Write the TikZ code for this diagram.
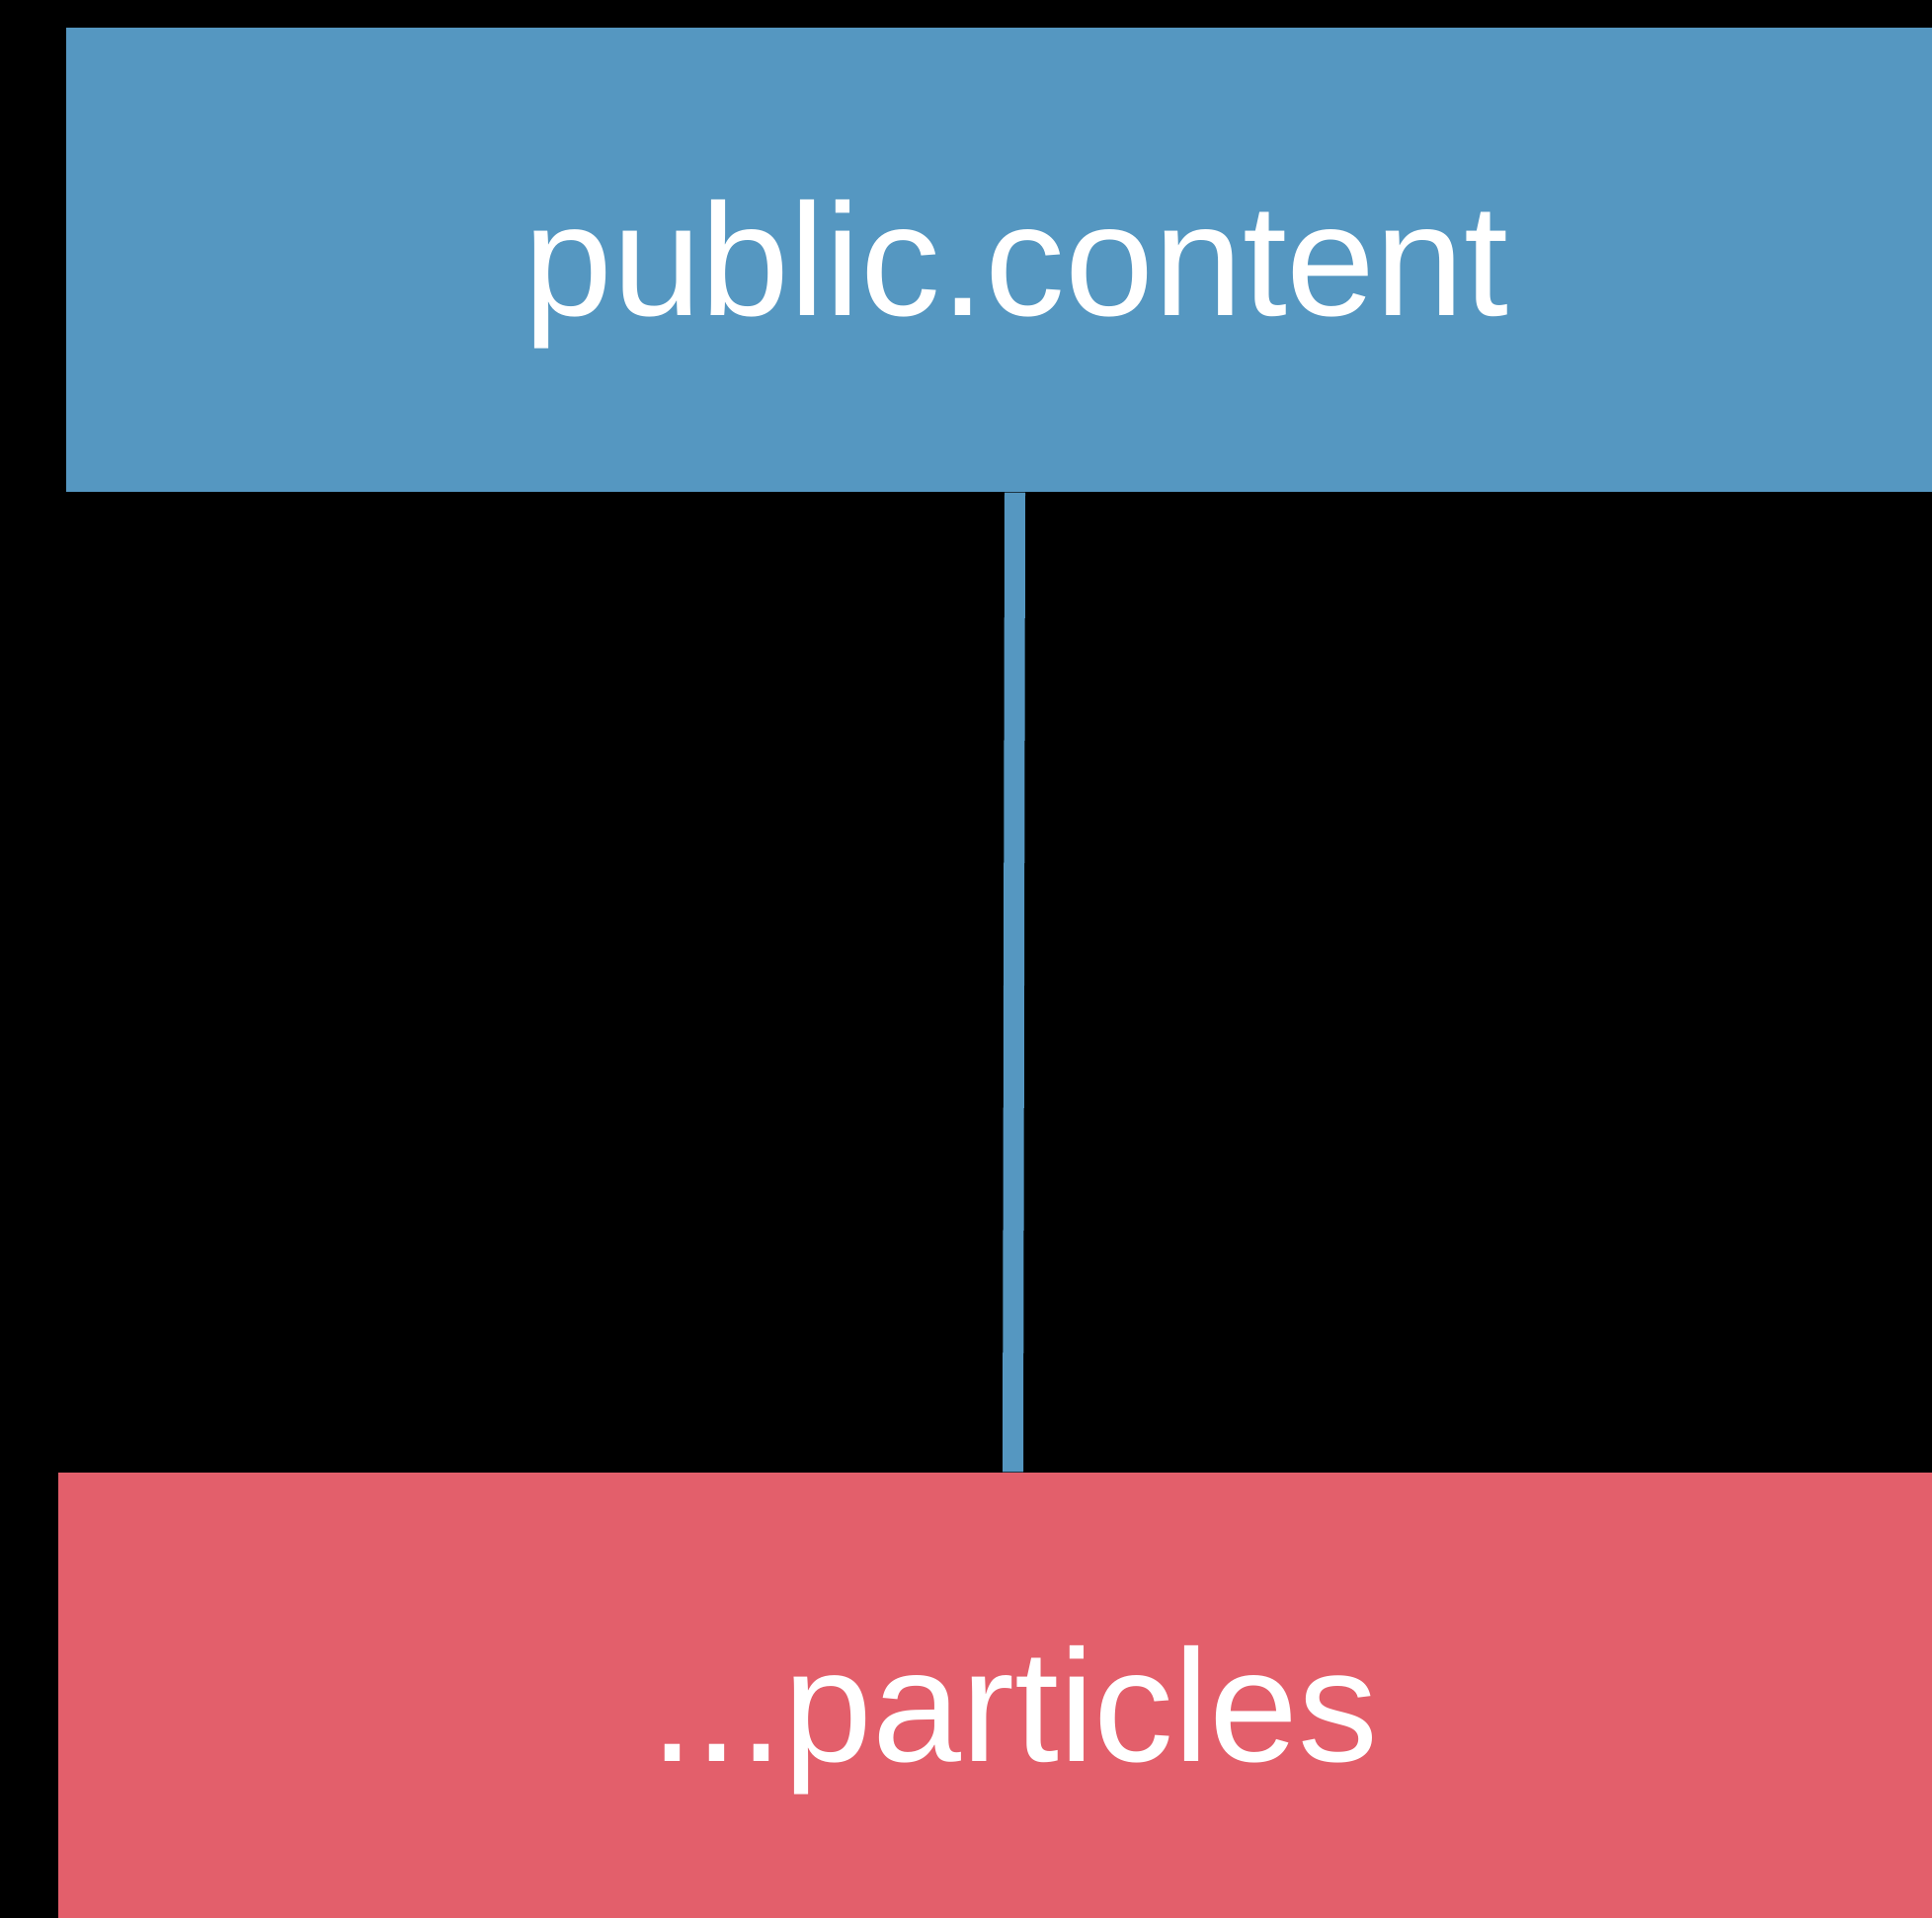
\documentclass[tikz,border=0pt]{standalone}
\usepackage{fontspec}
\setmainfont{Liberation Sans}
\usetikzlibrary{positioning}
\definecolor{pubclr}{RGB}{85,151,193}
\definecolor{partclr}{RGB}{227,95,107}
\tikzset{
  typebox/.style={rectangle,draw=none,inner sep=0pt,minimum height=4.70cm},
  pub/.style={typebox,fill=pubclr,minimum width=19.24cm},
  part/.style={typebox,fill=partclr,minimum width=19.36cm},
  typelbl/.style={font=\fontsize{46}{55}\selectfont,text=white,
                  inner sep=0pt,anchor=base},
  link/.style={draw=pubclr,line width=0.21cm},
}

\begin{document}
\begin{tikzpicture}
\useasboundingbox (0,0) rectangle (19.56,19.42);
\fill[black] (0,0) rectangle (19.56,19.42);
\clip (0,0) rectangle (19.56,19.42);
\node[pub]  (content)   at (10.29,16.79) {};
\node[part] (particles) at (10.27,2.16) {};
\node[typelbl] (contentlbl)   at (10.29,16.22) {public.content};
\node[typelbl] (particleslbl) at (10.27,1.58) {...particles};
\draw[link] ([xshift=-0.015cm]content.south) -- ([xshift=-0.015cm]particles.north);
\end{tikzpicture}
\end{document}
